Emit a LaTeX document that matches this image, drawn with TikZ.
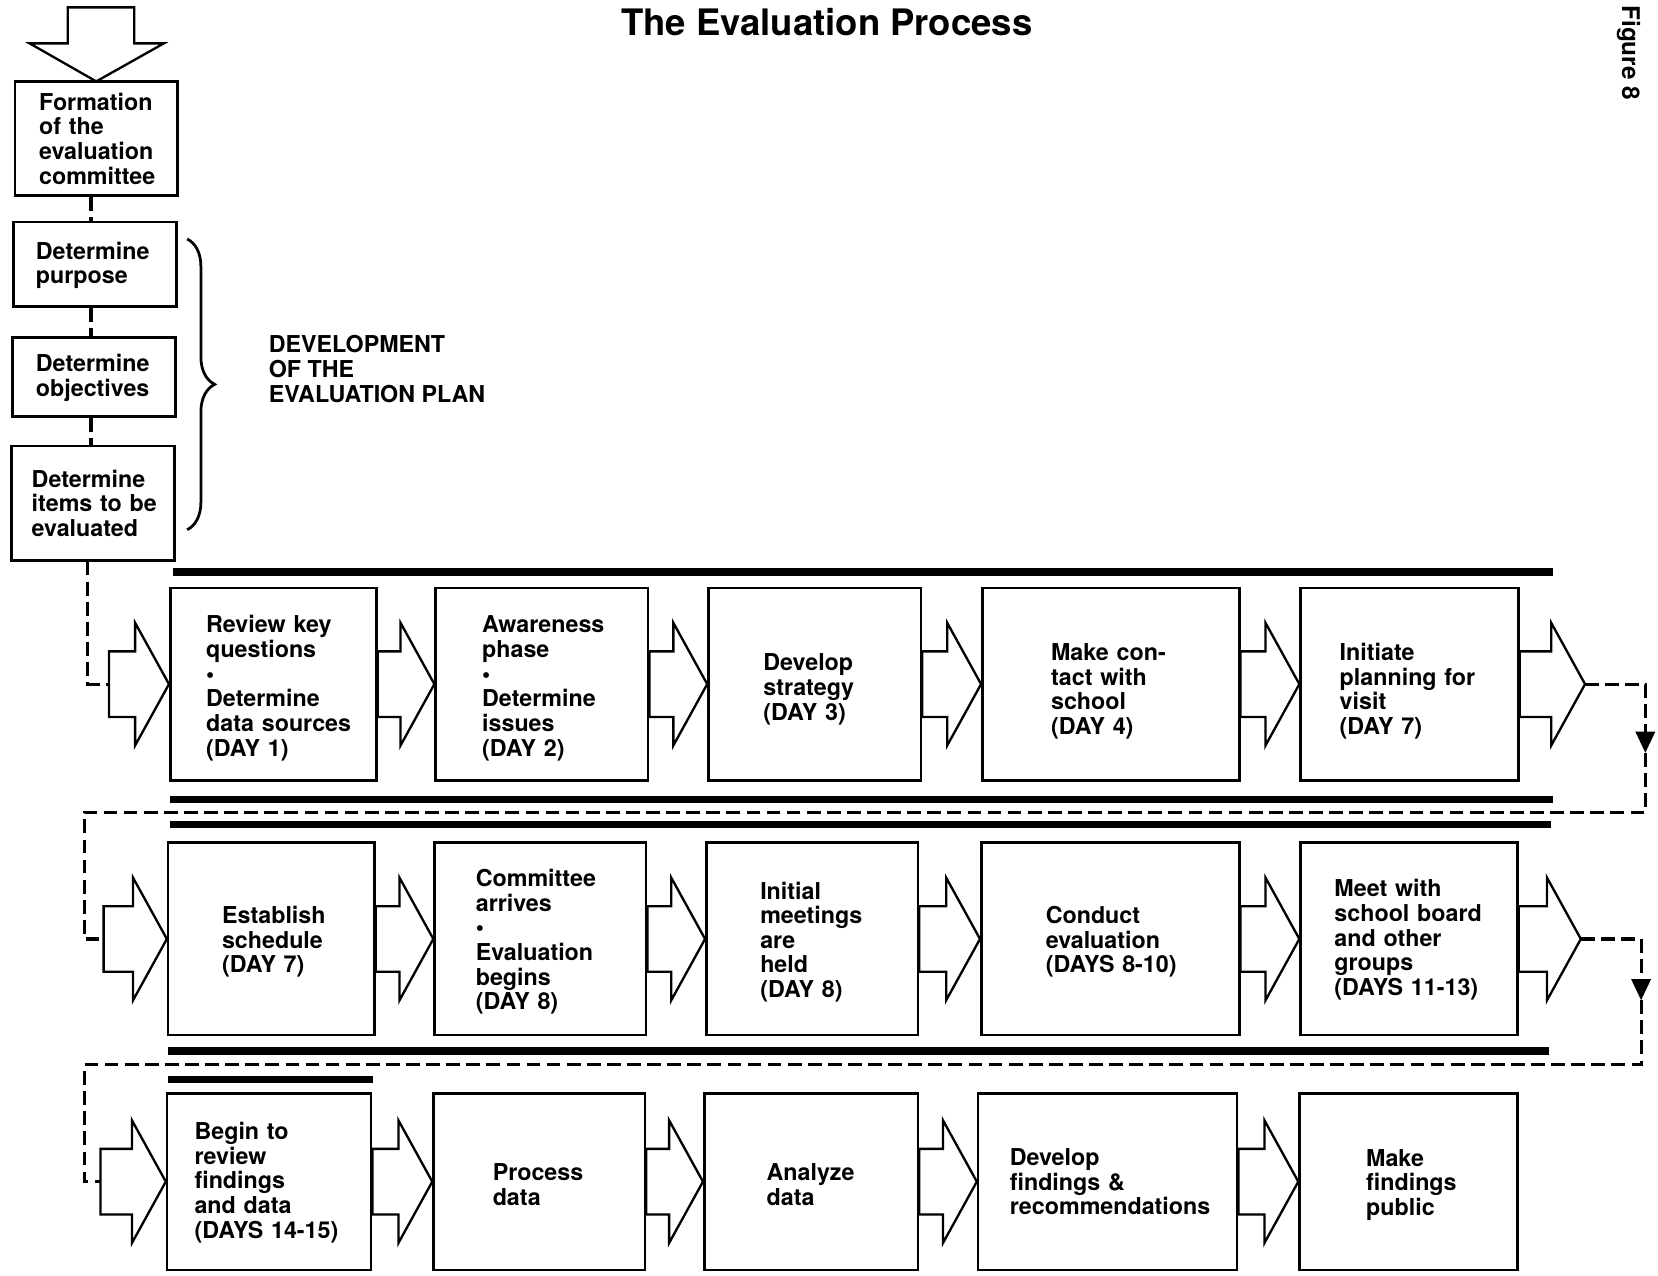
\documentclass[tikz,border=0pt]{standalone}
\usepackage{fontspec}
\setmainfont{TeX Gyre Heros}
\usetikzlibrary{arrows.meta,calc,decorations.pathreplacing}
\hyphenpenalty=10000
\exhyphenpenalty=10000
\hbadness=10000
\hfuzz=200pt
\newcommand\blockarr[2]{%
  \draw[barrow] let \p1=(#1), \p2=(#2) in
    (\x1,\y1+31pt) -- (\x2-32pt,\y1+31pt) -- (\x2-32pt,\y1+58pt) -- (\x2,\y1)
    -- (\x2-32pt,\y1-58pt) -- (\x2-32pt,\y1-31pt) -- (\x1,\y1-31pt) -- cycle;}
\newcommand\bigbul{\textbullet}
\begin{document}
\begin{tikzpicture}[x=1pt,y=-1pt,
  box/.style={draw, line width=2.4pt, inner sep=0pt, align=left,
    font=\fontsize{22}{23.3}\selectfont\bfseries},
  tdown/.style={execute at begin node={\rule{0pt}{#1}}},
  lbl/.style={inner sep=0pt, align=left, font=\fontsize{22}{23.3}\selectfont\bfseries},
  barrow/.style={draw, line width=2.2pt, line join=miter},
  bar/.style={line width=7pt},
  dashline/.style={line width=3pt, dash pattern=on 13pt off 6pt},
  tipdown/.style={-{Triangle[width=18pt,length=20pt]}},
]
\useasboundingbox (0,0) rectangle (1568,1206);

% title and figure label
\node[inner sep=0pt, font=\fontsize{34.5}{40}\selectfont\bfseries] (title) at (782,21) {The Evaluation Process};
\node[inner sep=0pt, rotate=-90, font=\fontsize{23}{26}\selectfont\bfseries] (fig) at (1540,50) {Figure 8};

% big entry arrow at top
\draw[barrow] (64,7) -- (127,7) -- (127,41) -- (155,41) -- (91,77) -- (28,41) -- (64,41) -- cycle;

% left column
\node[box, minimum width=154, minimum height=108, text width=108] (form) at (91,131)
  {Formation\\of~the\\evaluation\\committee};
\node[box, tdown=18pt, minimum width=154, minimum height=80, text width=112] (purp) at (90,250)
  {Determine\\purpose};
\node[box, tdown=18pt, minimum width=154, minimum height=75, text width=110] (obj) at (89,356.5)
  {Determine\\objectives};
\node[box, minimum width=154, minimum height=108, text width=116] (items) at (88,476)
  {Determine\\items~to~be\\evaluated};

\draw[dashline] ([xshift=-5pt]form.south) -- ([xshift=-4pt]purp.north);
\draw[dashline] ([xshift=-4pt]purp.south) -- ([xshift=-3pt]obj.north);
\draw[dashline] ([xshift=-3pt]obj.south) -- ([xshift=-2pt]items.north);

% brace and label
\draw[line width=2.6pt, decorate, decoration={brace, amplitude=26pt}] (177,226) -- (177,501);
\node[lbl, anchor=west] (dev) at (254,349) {DEVELOPMENT\\OF~THE\\EVALUATION~PLAN};

% bars
\draw[bar] (164,541) -- (1469,541);
\draw[bar] (161,756) -- (1469,756);
\draw[bar] (161,780) -- (1467,780);
\draw[bar] (159,994) -- (1465,994);
\draw[bar] (159,1021) -- (353,1021);

% row 1
\node[box, tdown=24pt, minimum width=195, minimum height=182, text width=127] (a1) at (258.5,647)
  {Review~key\\questions\\\bigbul\\Determine\\data~sources\\(DAY~1)};
\node[box, tdown=24pt, minimum width=201, minimum height=182, text width=113] (a2) at (512.5,647)
  {Awareness\\phase\\\bigbul\\Determine\\issues\\(DAY~2)};
\node[box, tdown=26pt, minimum width=201, minimum height=182, text width=97] (a3) at (770.5,647)
  {Develop\\strategy\\(DAY~3)};
\node[box, tdown=30pt, minimum width=243, minimum height=182, text width=113] (a4) at (1050.5,647)
  {Make~con-\\tact~with\\school\\(DAY~4)};
\node[box, tdown=30pt, minimum width=206, minimum height=182, text width=132] (a5) at (1333,647)
  {Initiate\\planning~for\\visit\\(DAY~7)};

% row 2
\node[box, tdown=22pt, minimum width=195, minimum height=182, text width=93] (b1) at (256.5,888)
  {Establish\\schedule\\(DAY~7)};
\node[box, tdown=22pt, minimum width=200, minimum height=182, text width=122] (b2) at (511,888)
  {Committee\\arrives\\\bigbul\\Evaluation\\begins\\(DAY~8)};
\node[box, tdown=22pt, minimum width=200, minimum height=182, text width=98] (b3) at (768,888)
  {Initial\\meetings\\are\\held\\(DAY~8)};
\node[box, tdown=22pt, minimum width=244, minimum height=182, text width=122] (b4) at (1050,888)
  {Conduct\\evaluation\\(DAYS~8-10)};
\node[box, tdown=18pt, minimum width=205, minimum height=182, text width=141] (b5) at (1332.5,888)
  {Meet~with\\school~board\\and~other\\groups\\(DAYS~11-13)};

% row 3
\node[box, tdown=18pt, minimum width=193, minimum height=167, text width=141] (c1) at (254.5,1117.5)
  {Begin~to\\review\\findings\\and~data\\(DAYS~14-15)};
\node[box, tdown=22pt, minimum width=200, minimum height=167, text width=88] (c2) at (510,1117.5)
  {Process\\data};
\node[box, tdown=22pt, minimum width=202, minimum height=167, text width=84] (c3) at (767,1117.5)
  {Analyze\\data};
\node[box, minimum width=245, minimum height=167, text width=185] (c4) at (1047.5,1117.5)
  {Develop\\findings~\&\\recommendations};
\node[box, tdown=22pt, minimum width=206, minimum height=167, text width=80] (c5) at (1332,1117.5)
  {Make\\findings\\public};

% arrow end points
\coordinate (in1) at (103,647);
\coordinate (in2) at (98,888);
\coordinate (in3) at (95,1117.5);
\coordinate (out1) at (1499,647);
\coordinate (out2) at (1495,888);

% block arrows
\blockarr{in1}{a1.west}
\blockarr{a1.east}{a2.west}
\blockarr{a2.east}{a3.west}
\blockarr{a3.east}{a4.west}
\blockarr{a4.east}{a5.west}
\blockarr{a5.east}{out1}

\blockarr{in2}{b1.west}
\blockarr{b1.east}{b2.west}
\blockarr{b2.east}{b3.west}
\blockarr{b3.east}{b4.west}
\blockarr{b4.east}{b5.west}
\blockarr{b5.east}{out2}

\blockarr{in3}{c1.west}
\blockarr{c1.east}{c2.west}
\blockarr{c2.east}{c3.west}
\blockarr{c3.east}{c4.west}
\blockarr{c4.east}{c5.west}

% dashed connectors
\draw[dashline] ([xshift=-5pt]items.south) |- (in1);
\coordinate (t1) at (1556,712);
\coordinate (t2) at (1552,946);
\draw[dashline, tipdown] (out1) -| (t1);
\draw[dashline] (t1) |- (80,768) |- (in2);
\draw[dashline, tipdown] (out2) -| (t2);
\draw[dashline] (t2) |- (80,1007) |- (in3);
\end{tikzpicture}
\end{document}
